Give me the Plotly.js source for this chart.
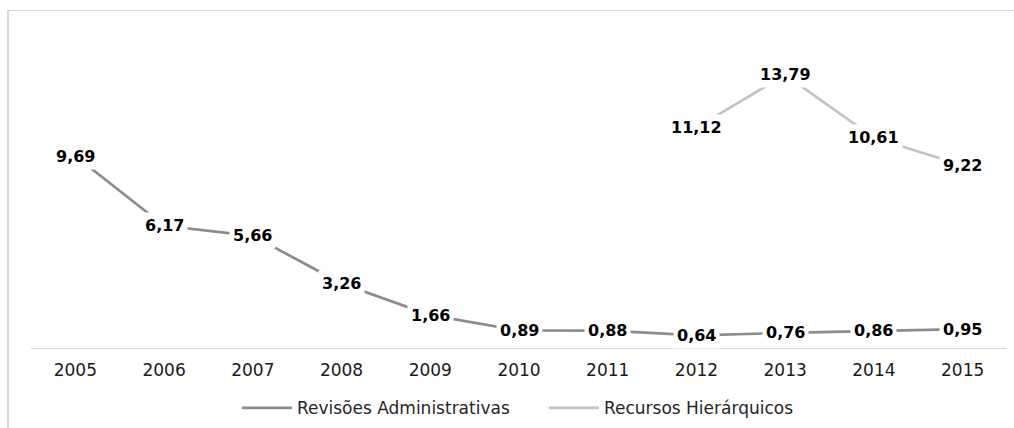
<!DOCTYPE html>
<html>
<head>
<meta charset="utf-8">
<script src="https://cdn.plot.ly/plotly-3.0.1.min.js"></script>
<style>
  html, body { margin: 0; padding: 0; background: #ffffff; }
  #wrap { position: relative; width: 1014px; height: 428px; overflow: hidden; }
  #chart { position: absolute; left: 0; top: 0; width: 1014px; height: 428px; }
  #frame { position: absolute; left: 7px; top: 10px; width: 1020px; height: 430px;
           border-left: 2px solid #d9d9d9; border-top: 1px solid #d9d9d9; pointer-events: none; }
</style>
</head>
<body>
<div id="wrap">
  <div id="chart"></div>
  <div id="frame"></div>
</div>
<script>
const years = ['2005','2006','2007','2008','2009','2010','2011','2012','2013','2014','2015'];
const revisoes = [9.69, 6.17, 5.66, 3.26, 1.66, 0.89, 0.88, 0.64, 0.76, 0.86, 0.95];
const recursos = [null, null, null, null, null, null, null, 11.12, 13.79, 10.61, 9.22];
const seriesNames = ['Revisões Administrativas', 'Recursos Hierárquicos'];
const seriesColors = ['#8c8c8c', '#c3c3c3'];

const fmt = v => v.toFixed(2).replace('.', ',');

const traces = [
  { x: years, y: revisoes, name: seriesNames[0], type: 'scatter', mode: 'lines',
    line: { color: seriesColors[0], width: 2.7 }, connectgaps: false, hoverinfo: 'skip' },
  { x: years, y: recursos, name: seriesNames[1], type: 'scatter', mode: 'lines',
    line: { color: seriesColors[1], width: 2.7 }, connectgaps: false, hoverinfo: 'skip' }
];

const annotations = [];
[revisoes, recursos].forEach(arr => {
  arr.forEach((v, i) => {
    if (v === null) return;
    annotations.push({
      x: i, y: v, xref: 'x', yref: 'y', text: fmt(v), showarrow: false,
      bgcolor: '#ffffff', borderpad: 3,
      font: { family: 'DejaVu Sans', size: 16, color: '#000000', weight: 'bold' },
      xanchor: 'center', yanchor: 'middle'
    });
  });
});

const layout = {
  width: 1014, height: 428,
  margin: { l: 31, r: 7, t: 31, b: 80, autoexpand: false },
  paper_bgcolor: '#ffffff', plot_bgcolor: '#ffffff',
  showlegend: true,
  legend: { orientation: 'h', x: 0.211, xanchor: 'left', y: -0.19, yanchor: 'middle',
            font: { family: 'DejaVu Sans', size: 17, color: '#262626' },
            entrywidth: 242, entrywidthmode: 'pixels', itemwidth: 50, tracegroupgap: 0 },
  xaxis: { type: 'category', range: [-0.5, 10.5], autorange: false,
           showline: true, linecolor: '#d9d9d9', linewidth: 1,
           showgrid: false, zeroline: false, ticks: '', ticklabelstandoff: 7,
           tickfont: { family: 'DejaVu Sans', size: 17, color: '#1a1a1a' } },
  yaxis: { range: [0, 16], autorange: false, visible: false, showgrid: false, zeroline: false },
  annotations: annotations
};

Plotly.newPlot('chart', traces, layout, { staticPlot: true, displayModeBar: false });
</script>
</body>
</html>
